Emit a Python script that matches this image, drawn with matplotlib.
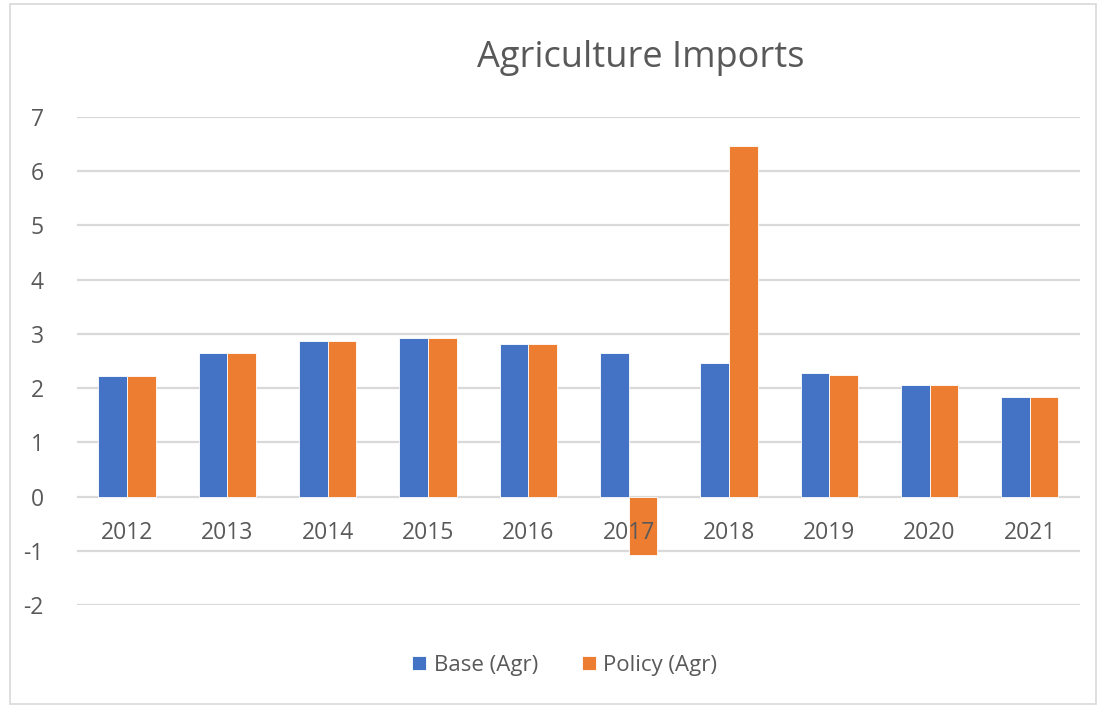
import matplotlib.pyplot as plt
from matplotlib.patches import Rectangle
import numpy as np

YEARS = ["2012", "2013", "2014", "2015", "2016", "2017", "2018", "2019", "2020", "2021"]
BASE = [2.22, 2.65, 2.87, 2.93, 2.82, 2.65, 2.47, 2.28, 2.05, 1.84]
POLICY = [2.22, 2.65, 2.87, 2.93, 2.82, -1.08, 6.47, 2.25, 2.05, 1.84]
Y_TICKS = [-2, -1, 0, 1, 2, 3, 4, 5, 6, 7]

blue = "#4472C4"
orange = "#ED7D31"
text_gray = "#595959"
grid_gray = "#D9D9D9"

plt.rcParams["font.family"] = ["Open Sans", "DejaVu Sans"]

fig = plt.figure(figsize=(10.99, 7.07), dpi=100)
ax = fig.add_axes([0.070, 0.1443, 0.9127, 0.6902])

# chart frame
fig.patches.append(Rectangle((0.009, 0.004), 0.988, 0.991, transform=fig.transFigure,
                             fill=False, edgecolor="#D9D9D9", linewidth=1.2))

x = np.arange(len(YEARS))
w = 0.285
ax.bar(x - w / 2, BASE, w, color=blue, edgecolor="white", linewidth=0.6,
       label="Base (Agr)", zorder=3)
ax.bar(x + w / 2, POLICY, w, color=orange, edgecolor="white", linewidth=0.6,
       label="Policy (Agr)", zorder=3)

ax.set_xlim(-0.5, len(YEARS) - 0.5)
ax.set_ylim(-2, 7)
ax.set_yticks(Y_TICKS)
ax.set_yticklabels([str(t) for t in Y_TICKS])
ax.set_xticks([])

# category labels sit just under the zero line, drawn over the bars
for i, year in enumerate(YEARS):
    ax.annotate(year, xy=(i, 0), xytext=(0, -26), textcoords="offset points",
                ha="center", va="center", fontsize=16.5, color=text_gray, zorder=5)

for s in ["top", "right", "left", "bottom"]:
    ax.spines[s].set_visible(False)
ax.tick_params(axis="y", length=0, pad=24, labelsize=16.5, labelcolor=text_gray)

ax.grid(axis="y", color=grid_gray, linewidth=1.6, zorder=0)
ax.set_axisbelow(True)

fig.text(0.583, 0.918, "Agriculture Imports", ha="center", va="center",
         fontsize=26, color=text_gray)

leg = fig.legend(loc="center", bbox_to_anchor=(0.514, 0.059), ncol=2, frameon=False,
                 fontsize=16, handlelength=0.6, handleheight=0.6,
                 columnspacing=2.0, handletextpad=0.35)
for t in leg.get_texts():
    t.set_color(text_gray)

fig.savefig("out.png", dpi=100)
